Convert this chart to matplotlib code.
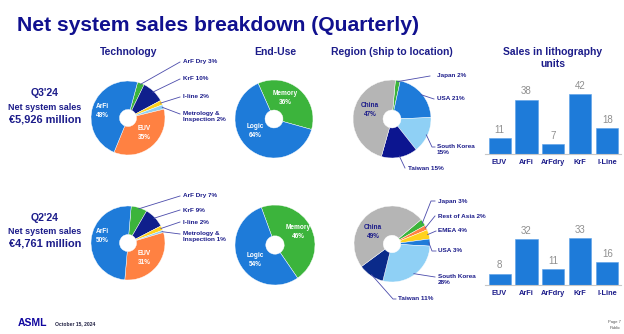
import numpy as np
import matplotlib
matplotlib.use("Agg")
import matplotlib.pyplot as plt
from matplotlib.lines import Line2D

plt.rcParams['font.family'] = ['Liberation Sans', 'DejaVu Sans']

# --- data ---
quarters = ["Q3'24", "Q2'24"]
sales_text = ["€5,926 million", "€4,761 million"]

tech_names = ["ArF Dry", "KrF", "I-line", "Metrology &\nInspection", "EUV", "ArFi"]
tech_q3 = [3, 10, 2, 2, 35, 48]
tech_q2 = [7, 9, 2, 1, 31, 50]

enduse_names = ["Memory", "Logic"]
enduse_q3 = [36, 64]
enduse_q2 = [46, 54]

region_q3_names = ["Japan", "USA", "South Korea", "Taiwan", "China"]
region_q3 = [2, 21, 15, 15, 47]
region_q2_names = ["Japan", "Rest of Asia", "EMEA", "USA", "South Korea", "Taiwan", "China"]
region_q2 = [3, 2, 4, 3, 28, 11, 49]

unit_names = ["EUV", "ArFi", "ArFdry", "KrF", "I-Line"]
units_q3 = [11, 38, 7, 42, 18]
units_q2 = [8, 32, 11, 33, 16]

# --- colours ---
BLUE = '#1e7bd9'
ORANGE = '#ff8142'
GREEN = '#3cb43c'
NAVY = '#0f1f8c'
YELLOW = '#ffd21e'
LIGHT = '#8fd0f5'
GREY = '#b5b5b5'
TXT = '#1c1c8a'
LINE = '#4b4bab'

tech_colors = [GREEN, NAVY, YELLOW, LIGHT, ORANGE, BLUE]
enduse_colors = [GREEN, BLUE]
region_q3_colors = [GREEN, BLUE, LIGHT, '#0c1590', GREY]
region_q2_colors = [GREEN, ORANGE, YELLOW, BLUE, LIGHT, '#0a2a8a', GREY]

W, H = 624, 334
fig = plt.figure(figsize=(W / 100, H / 100), dpi=100)


def px(x, y):
    return x / W, 1 - y / H


def text(x, y, s, **kw):
    kw.setdefault('color', TXT)
    kw.setdefault('fontweight', 'bold')
    fig.text(*px(x, y), s, transform=fig.transFigure, **kw)


def line(xs, ys):
    fx = [x / W for x in xs]
    fy = [1 - y / H for y in ys]
    fig.add_artist(Line2D(fx, fy, color=LINE, lw=0.6, transform=fig.transFigure))


def donut(cx, cy, r, vals, colors, start):
    ax = fig.add_axes([(cx - r) / W, 1 - (cy + r) / H, 2 * r / W, 2 * r / H])
    wedges, _ = ax.pie(vals, colors=colors, startangle=start, counterclock=False,
                       radius=1, wedgeprops=dict(width=0.77, edgecolor='white', linewidth=0.3))
    ax.set_xlim(-1, 1)
    ax.set_ylim(-1, 1)
    ax.axis('off')
    return wedges


def edge_point(w, cx, cy, r, k=1.0):
    a = np.radians((w.theta1 + w.theta2) / 2)
    return cx + k * r * np.cos(a), cy - k * r * np.sin(a)


def leader(w, cx, cy, r, pts):
    x0, y0 = edge_point(w, cx, cy, r, 0.97)
    line([x0] + [p[0] for p in pts], [y0] + [p[1] for p in pts])


# --- title and headers ---
text(17, 31, "Net system sales breakdown (Quarterly)", fontsize=15.2, color='#10108f',
     va='baseline')
text(129, 52, "Technology", fontsize=7.5, ha='center', va='center')
text(275, 52, "End-Use", fontsize=7.5, ha='center', va='center')
text(392, 52, "Region (ship to location)", fontsize=7.5, ha='center', va='center')
text(553, 52, "Sales in lithography", fontsize=7.5, ha='center', va='center')
text(553, 64, "units", fontsize=7.5, ha='center', va='center')

# --- left column ---
for q, s, ys in zip(quarters, sales_text, [(93, 107, 120), (218, 231, 244)]):
    text(45, ys[0], q, fontsize=7.6, ha='center', va='center')
    text(45, ys[1], "Net system sales", fontsize=6.5, ha='center', va='center')
    text(45, ys[2], s, fontsize=7.9, ha='center', va='center')

lab = dict(fontsize=4.6, va='center', linespacing=1.25)
inner = dict(fontsize=4.7, color='white', ha='center', va='center', linespacing=1.3)

# --- technology ---
tech_layout = [
    (128, 118, 37, tech_q3, 75, [62, 79, 97, 117]),
    (128, 243, 37, tech_q2, 85, [196, 210, 222, 237]),
]
for cx, cy, r, vals, start, ly in tech_layout:
    ws = donut(cx, cy, r, vals, tech_colors, start)
    for i in range(4):
        name = tech_names[i]
        text(183, ly[i], f"{name} {vals[i]}%", **lab)
        leader(ws[i], cx, cy, r, [(180, ly[i] - (3 if i == 3 else 0))])
    text(cx - 26, cy - 7, f"{tech_names[5]}\n{vals[5]}%", **inner)
    text(cx + 16, cy + 15, f"{tech_names[4]}\n{vals[4]}%", **inner)

# --- end-use ---
enduse_layout = [
    (274, 119, 39, enduse_q3, 114, (285, 98), (255, 131)),
    (275, 245, 40, enduse_q2, 110, (298, 232), (255, 260)),
]
for cx, cy, r, vals, start, pm, pl in enduse_layout:
    donut(cx, cy, r, vals, enduse_colors, start)
    text(*pm, f"{enduse_names[0]}\n{vals[0]}%", **inner)
    text(*pl, f"{enduse_names[1]}\n{vals[1]}%", **inner)

# --- region ---
cx, cy, r = 392, 119, 39
ws = donut(cx, cy, r, region_q3, region_q3_colors, 85)
r3_pos = [(437, 76), (437, 99), (437, 150), (408, 168)]
r3_path = [[(430, 76)], [(434, 99)], [(432, 147), (435, 147)], [(405, 168)]]
for i in range(4):
    name = region_q3_names[i]
    sep = "\n" if name == "South Korea" else " "
    text(*r3_pos[i], f"{name}{sep}{region_q3[i]}%", **lab)
    leader(ws[i], cx, cy, r, r3_path[i])
text(370, 110, f"China\n{region_q3[4]}%", color=TXT, fontsize=4.7, ha='center', va='center',
     linespacing=1.3)

cx, cy, r = 392, 244, 38
ws = donut(cx, cy, r, region_q2, region_q2_colors, 40)
r2_pos = [(438, 201), (438, 216), (438, 231), (438, 251), (438, 280), (398, 299)]
r2_path = [[(431, 201), (435, 201)], [(435, 216)], [(436, 231)], [(432, 251), (436, 251)],
           [(435, 277)], [(393, 299), (396, 299)]]
for i in range(6):
    name = region_q2_names[i]
    sep = "\n" if name == "South Korea" else " "
    text(*r2_pos[i], f"{name}{sep}{region_q2[i]}%", **lab)
    leader(ws[i], cx, cy, r, r2_path[i])
text(373, 232, f"China\n{region_q2[6]}%", color=TXT, fontsize=4.7, ha='center', va='center',
     linespacing=1.3)

# --- unit bars ---
for bottom, vals in [(154, units_q3), (285, units_q2)]:
    ax = fig.add_axes([485 / W, 1 - bottom / H, 136 / W, 80 / H])
    x = np.arange(len(vals))
    ax.bar(x, vals, width=0.82, color=BLUE, edgecolor='#5aa0e8', linewidth=0.4)
    for xi, v in zip(x, vals):
        ax.text(xi, v + 2.3, str(v), ha='center', va='bottom', fontsize=7, color='#8f8f8f')
    ax.set_xlim(-0.54, 4.51)
    ax.set_ylim(0, 56)
    for s in ['top', 'right', 'left']:
        ax.spines[s].set_visible(False)
    ax.spines['bottom'].set_color('#c8c8c8')
    ax.spines['bottom'].set_linewidth(0.8)
    ax.set_yticks([])
    ax.set_xticks(x, unit_names, fontsize=5.3, fontweight='bold', color=TXT)
    ax.tick_params(axis='x', length=0, pad=3.5)
    ax.patch.set_alpha(0)

# --- footer ---
text(18, 326, "ASML", fontsize=7.5, color='#10069f', va='baseline')
text(55, 325, "October 15, 2024", fontsize=3.6, color='#222244', va='baseline')
text(621, 323, "Page 7", fontsize=3, color='#555555', fontweight='normal', ha='right', va='baseline')
text(621, 329, "Public", fontsize=3, color='#555555', fontweight='normal', ha='right', va='baseline')

fig.savefig("out.png", dpi=100)
